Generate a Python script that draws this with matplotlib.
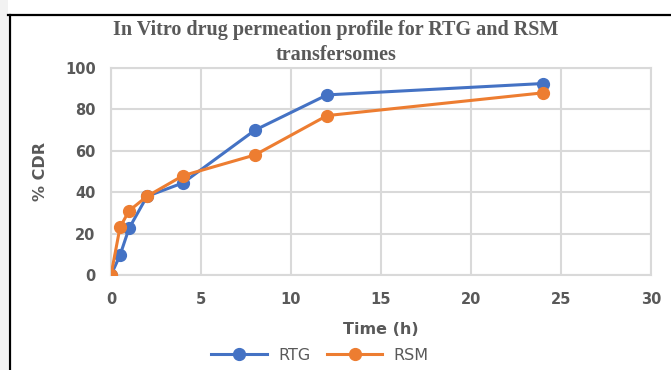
import matplotlib.pyplot as plt
from matplotlib.lines import Line2D
from matplotlib.patches import Rectangle

# data
time_h = [0, 0.5, 1, 2, 4, 8, 12, 24]
rtg = [0, 9.5, 22.5, 38, 44.5, 70, 87, 92.5]
rsm = [0, 23, 31, 38, 48, 58, 77, 88]
xticks = [0, 5, 10, 15, 20, 25, 30]
yticks = [0, 20, 40, 60, 80, 100]

W, H = 671, 370
fig = plt.figure(figsize=(W / 100, H / 100), dpi=100)

# light strip at left and the black frame lines
fig.patches.append(Rectangle((0, 0), 8 / W, 1, transform=fig.transFigure,
                             facecolor='#f2f2f2', edgecolor='none', zorder=0))
fig.add_artist(Line2D([8 / W, 1], [1 - 15 / H, 1 - 15 / H], color='black', lw=1.6))
fig.add_artist(Line2D([9.5 / W, 9.5 / W], [0, 1 - 15 / H], color='black', lw=1.6))

ax = fig.add_axes([111 / W, 1 - 275 / H, (651 - 111) / W, (275 - 68) / H])

ax.plot(time_h, rtg, color='#4472C4', lw=2.2, marker='o', ms=8.5, label='RTG', zorder=3)
ax.plot(time_h, rsm, color='#ED7D31', lw=2.2, marker='o', ms=8.5, label='RSM', zorder=4)

ax.set_xlim(0, 30)
ax.set_ylim(0, 100)
ax.set_xticks(xticks)
ax.set_yticks(yticks)
ax.grid(True, color='#d9d9d9', lw=1.5)
ax.set_axisbelow(True)
for s in ax.spines.values():
    s.set_color('#d9d9d9')
    s.set_linewidth(1.5)
ax.tick_params(length=0, labelsize=10.5, labelcolor='#595959')
ax.tick_params(axis='y', pad=11)
ax.tick_params(axis='x', pad=12)
for lab in ax.get_xticklabels() + ax.get_yticklabels():
    lab.set_fontweight('bold')

ax.set_xlabel('Time (h)', fontsize=11.5, color='#595959', fontweight='bold', labelpad=11)
ax.set_ylabel('% CDR', fontsize=11.5, color='#595959', fontweight='bold', labelpad=12)

fig.text(336 / W, 1 - 42.5 / H, 'In Vitro drug permeation profile for RTG and RSM\ntransfersomes',
         ha='center', va='center', family='Liberation Serif', fontweight='bold',
         fontsize=14.5, color='#595959', linespacing=1.3)

fig.legend(loc='center', bbox_to_anchor=(320 / W, 1 - 355 / H), ncol=2, frameon=False,
           fontsize=11.5, labelcolor='#595959', handlelength=3.5, columnspacing=1.0,
           handletextpad=0.7)

fig.savefig('out.png', dpi=100)
